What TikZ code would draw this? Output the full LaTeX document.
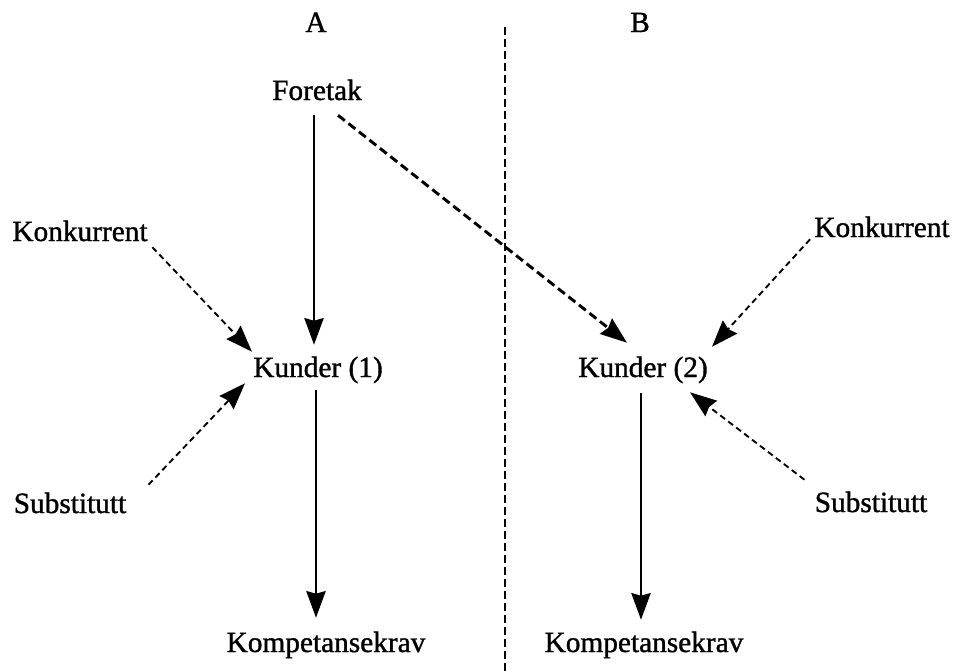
\documentclass[tikz,border=0pt]{standalone}
\usepackage{fontspec}
\setmainfont{Liberation Serif}[FakeBold=1.2]
\usetikzlibrary{positioning,arrows.meta}

\begin{document}
\begin{tikzpicture}[x=0.75pt,y=-0.75pt,
		lbl/.style={anchor=base,inner sep=2.25pt,text height=15pt,text depth=4.5pt,font=\fontsize{22}{26}\selectfont},
		pil/.style={line width=1.6pt,-{Stealth[length=20pt,width=14.5pt,inset=2pt]}},
		stiplet/.style={pil,line width=1.4pt,dash pattern=on 4.5pt off 3pt},
		tykkstiplet/.style={pil,line width=2.2pt,dash pattern=on 6.5pt off 3.5pt},
		skille/.style={line width=1.1pt,dash pattern=on 6pt off 3pt}]
		\useasboundingbox (0,0) rectangle (954,671);
		% overskrifter
		\node[lbl] (labA) at (316,32) {A};
		\node[lbl] (labB) at (640,32) {B};
		\coordinate (skilletopp) at (505,27);
		\coordinate (skillebunn) at (505,671);
		\draw[skille] (skilletopp) -- (skillebunn);
		% noder
		\node[lbl] (foretak) at (317,100) {Foretak};
		\node[lbl] (konkA) at (80,241) {Konkurrent};
		\node[lbl] (konkB) at (882,237) {Konkurrent};
		\node[lbl] (kunder1) at (318,377) {Kunder (1)};
		\node[lbl] (kunder2) at (643,377) {Kunder (2)};
		\node[lbl] (substA) at (70,513) {Substitutt};
		\node[lbl] (substB) at (871,512) {Substitutt};
		\node[lbl] (kompA) at (326,652) {Kompetansekrav};
		\node[lbl] (kompB) at (644,652) {Kompetansekrav};
		% piler
		\draw[pil] ([shift={(-3,6)}]foretak.south) -- ([shift={(-4,-9)}]kunder1.north);
		\draw[tykkstiplet] ([shift={(21,6)}]foretak.south) -- ([shift={(-16,-11)}]kunder2.north);
		\draw[pil] ([shift={(-2,4)}]kunder1.south) -- ([shift={(-10,-11)}]kompA.north);
		\draw[pil] ([shift={(-2,7)}]kunder2.south) -- ([shift={(-3,-9)}]kompB.north);
		\draw[stiplet] ([shift={(1.5,-3)}]konkA.south east) -- ([shift={(2,-2)}]kunder1.north west);
		\draw[stiplet] ([shift={(19,-5)}]substA.north east) -- ([shift={(-5,-3)}]kunder1.south west);
		\draw[stiplet] ([shift={(-1,-7)}]konkB.south west) -- ([shift={(1,-7)}]kunder2.north east);
		\draw[stiplet] ([shift={(-7,-9)}]substB.north west) -- ([shift={(-21,6)}]kunder2.south east);
\end{tikzpicture}
\end{document}
